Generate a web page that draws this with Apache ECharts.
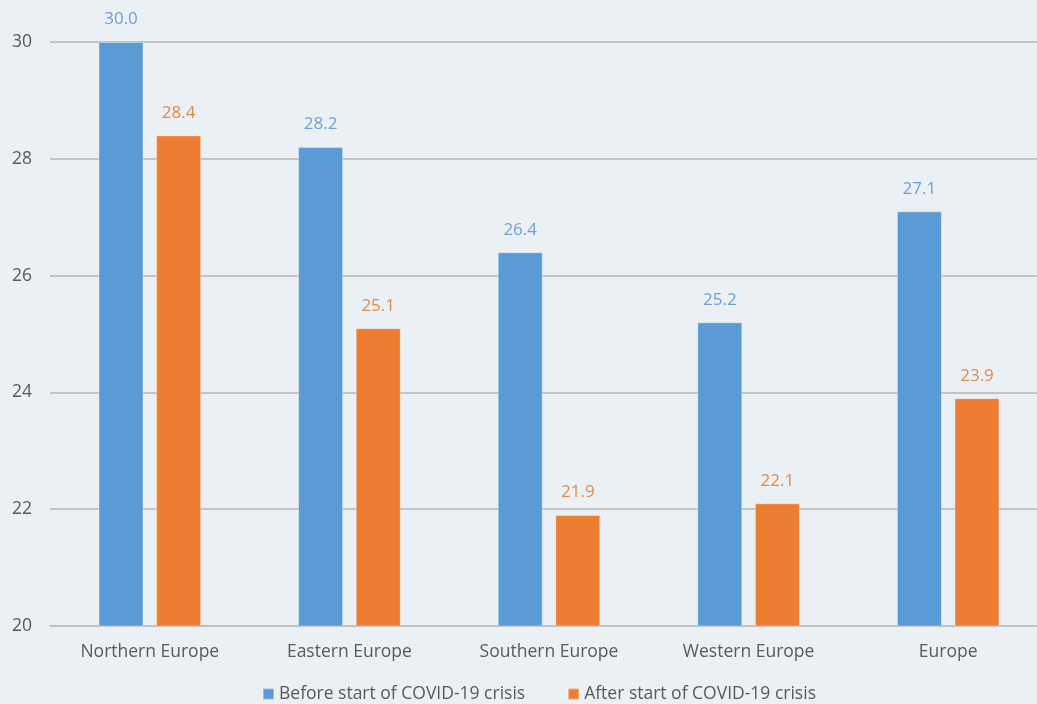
<!DOCTYPE html>
<html>
<head>
<meta charset="utf-8">
<script src="https://cdn.jsdelivr.net/npm/echarts@6/dist/echarts.min.js"></script>
<style>
  html, body { margin: 0; padding: 0; background: #ebf0f5; }
  #chart { width: 1037px; height: 704px; }
</style>
</head>
<body>
<div id="chart"></div>
<script>
const regions = ['Northern Europe', 'Eastern Europe', 'Southern Europe', 'Western Europe', 'Europe'];
const beforeCrisis = [30.0, 28.2, 26.4, 25.2, 27.1];
const afterCrisis = [28.4, 25.1, 21.9, 22.1, 23.9];
const seriesNames = ['Before start of COVID-19 crisis', 'After start of COVID-19 crisis'];

const font = 'Open Sans, "Liberation Sans", sans-serif';

function barSeries(name, values, color, labelColor) {
  return {
    name: name,
    type: 'bar',
    data: values,
    barWidth: 45,
    barGap: '28%',
    itemStyle: { color: color, borderColor: 'rgba(255,255,255,0.35)', borderWidth: 1 },
    label: {
      show: true,
      position: 'top',
      distance: 14,
      color: labelColor,
      fontSize: 17,
      fontFamily: font,
      formatter: p => p.value.toFixed(1)
    }
  };
}

const chart = echarts.init(document.getElementById('chart'));
chart.setOption({
  backgroundColor: '#ebf0f5',
  animation: false,
  // the plot runs a little past the right edge of the canvas
  grid: { left: 50, width: 998, top: 42, bottom: 78, outerBoundsMode: 'none' },
  legend: {
    bottom: -4,
    left: 257,
    itemWidth: 11,
    itemHeight: 11,
    itemGap: 42,
    icon: 'rect',
    textStyle: { color: '#595959', fontSize: 17.5, fontFamily: font }
  },
  xAxis: {
    type: 'category',
    data: regions,
    axisLine: { lineStyle: { color: '#bfbfbf', width: 2 } },
    axisTick: { show: false },
    axisLabel: { color: '#595959', fontSize: 17.5, fontFamily: font, margin: 17 }
  },
  yAxis: {
    type: 'value',
    min: 20,
    max: 30,
    interval: 2,
    axisLine: { show: false },
    axisTick: { show: false },
    axisLabel: { color: '#595959', fontSize: 17.5, fontFamily: font, margin: 18 },
    splitLine: { lineStyle: { color: '#c4c4c4', width: 2 } }
  },
  series: [
    barSeries(seriesNames[0], beforeCrisis, '#5b9bd5', '#6f9fd2'),
    barSeries(seriesNames[1], afterCrisis, '#ed7d31', '#e48a48')
  ]
});
</script>
</body>
</html>
